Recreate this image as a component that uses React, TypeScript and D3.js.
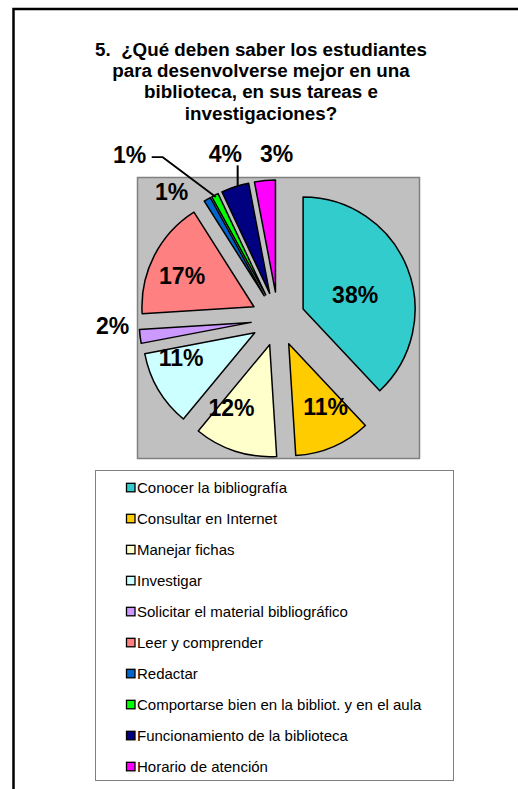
import React from 'react';
import * as d3 from 'd3';

// chart data
const titleLines = [
  '5.  ¿Qué deben saber los estudiantes',
  'para desenvolverse mejor en una',
  'biblioteca, en sus tareas e',
  'investigaciones?',
];

const categories = [
  'Conocer la bibliografía',
  'Consultar en Internet',
  'Manejar fichas',
  'Investigar',
  'Solicitar el material bibliográfico',
  'Leer y comprender',
  'Redactar',
  'Comportarse bien en la bibliot. y en el aula',
  'Funcionamiento de la biblioteca',
  'Horario de atención',
];

const percents = [38, 11, 12, 11, 2, 17, 1, 1, 4, 3];

const colors = [
  '#33CCCC',
  '#FFCC00',
  '#FFFFCC',
  '#CCFFFF',
  '#CC99FF',
  '#FF8080',
  '#0066CC',
  '#00FF00',
  '#000080',
  '#FF00FF',
];

// layout
const W = 518;
const H = 789;
const cx = 278;
const cy = 319;
const radius = 112;
const explode = 27;
const font = 'Arial, "Liberation Sans", Helvetica, sans-serif';
const labelSize = 23;

// the labels in the original were dragged around by hand a bit
const labelShift: [number, number][] = [
  [1, 6], [7, -6], [-15, -8], [-9, -13], [-3, -14],
  [-5, 3], [-23, 14], [-74, -18], [-2, -9], [14, -2],
];

export default function App() {
  const pie = d3.pie<number>().sort(null).value((d) => d);
  const arcs = pie(percents);
  const arc = d3.arc<d3.PieArcDatum<number>>().innerRadius(0).outerRadius(radius);

  const dir = (a: d3.PieArcDatum<number>) => {
    const mid = (a.startAngle + a.endAngle) / 2;
    return [Math.sin(mid), -Math.cos(mid)];
  };

  const labels = arcs.map((a, i) => {
    const [dx, dy] = dir(a);
    const inside = a.value >= 10;
    const k = inside ? (a.value > 30 ? 0.49 : 0.67) : 1.22;
    const dist = explode + k * radius;
    return {
      x: cx + dx * dist + labelShift[i][0],
      y: cy + dy * dist + labelShift[i][1],
      edgeX: cx + dx * (explode + radius - 2),
      edgeY: cy + dy * (explode + radius - 2),
    };
  });

  const green = labels[7];
  const navy = labels[8];
  const legendTop = 487.5;
  const legendStep = 31;

  return (
    <div style={{ position: 'absolute', left: 0, top: 0 }}>
      <svg width={W} height={H} style={{ display: 'block', background: '#fff' }}>
        <rect x={13.5} y={9} width={700} height={1000} fill="#fff" stroke="#000" strokeWidth={2.5} />

        <g fontFamily={font} fontWeight="bold" fontSize={18.8} textAnchor="middle">
          {titleLines.map((t, i) => (
            <text key={i} x={261} y={55.5 + i * 21.4} xmlSpace="preserve" style={{ whiteSpace: 'pre' }}>{t}</text>
          ))}
        </g>

        <rect x={137.5} y={177.5} width={282} height={281} fill="#C0C0C0" stroke="#808080" strokeWidth={1.5} />

        <g>
          {arcs.map((a, i) => {
            const [dx, dy] = dir(a);
            return (
              <path
                key={i}
                d={arc(a) || ''}
                transform={`translate(${cx + dx * explode},${cy + dy * explode})`}
                fill={colors[i]}
                stroke="#000"
                strokeWidth={1.5}
                strokeLinejoin="round"
              />
            );
          })}
        </g>

        {/* leader lines */}
        <polyline
          points={`${green.x + 22},${green.y + 2} ${green.x + 33},${green.y + 2} ${green.edgeX},${green.edgeY}`}
          fill="none"
          stroke="#000"
          strokeWidth={1.8}
        />
        <line x1={navy.edgeX + 2} y1={navy.y + 11} x2={navy.edgeX + 2} y2={navy.edgeY - 2} stroke="#000" strokeWidth={2} />

        <g fontFamily={font} fontWeight="bold" fontSize={labelSize} textAnchor="middle">
          {arcs.map((a, i) => (
            <text key={i} x={labels[i].x} y={labels[i].y} dy="0.35em">
              {`${a.value}%`}
            </text>
          ))}
        </g>

        <rect x={95.5} y={470.5} width={358} height={310} fill="#fff" stroke="#808080" strokeWidth={1} />
        <g fontFamily={font} fontSize={15}>
          {categories.map((c, i) => (
            <g key={c} transform={`translate(0,${legendTop + i * legendStep})`}>
              <rect x={126.5} y={-4.2} width={8.5} height={8.5} fill={colors[i]} stroke="#000" strokeWidth={1.3} />
              <text x={137} y={0} dy="0.34em">{c}</text>
            </g>
          ))}
        </g>
      </svg>
    </div>
  );
}
